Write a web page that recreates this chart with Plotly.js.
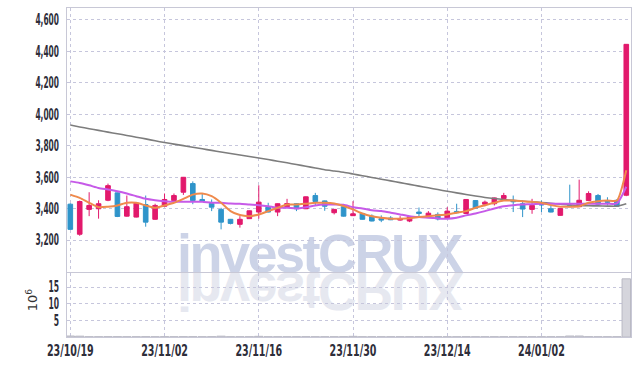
<!DOCTYPE html>
<html>
<head>
<meta charset="utf-8">
<script src="https://cdn.plot.ly/plotly-3.0.1.min.js"></script>
<style>
  html, body { margin:0; padding:0; background:#ffffff; }
  #wrap { position:relative; width:639px; height:366px; overflow:hidden; }
  .wm { position:absolute; left:177px; top:226px; font-family:"Liberation Sans", Arial, sans-serif;
        font-weight:bold; font-size:54px; line-height:54px; letter-spacing:-2.5px; white-space:nowrap; }
  #wm1 { color:#ccd3e7; }
  #wm2 { color:#e6e8f0; transform-origin:0 46.7px; transform:scaleY(-1); }
  #plot { position:absolute; left:0; top:0; width:639px; height:366px; }
</style>
</head>
<body>
<div id="wrap">
  <div class="wm" id="wm1">investCRUX</div>
  <div class="wm" id="wm2">investCRUX</div>
  <div id="plot"></div>
</div>
<script>
const dates = ["23/10/19","23/10/20","23/10/23","23/10/24","23/10/25","23/10/26","23/10/27","23/10/30","23/10/31",
"23/11/01","23/11/02","23/11/03","23/11/06","23/11/07","23/11/08","23/11/09","23/11/10","23/11/13","23/11/14","23/11/15","23/11/16","23/11/17","23/11/20","23/11/21","23/11/22","23/11/23","23/11/24","23/11/27","23/11/28","23/11/29","23/11/30",
"23/12/01","23/12/04","23/12/05","23/12/06","23/12/07","23/12/08","23/12/11","23/12/12","23/12/13","23/12/14","23/12/15","23/12/18","23/12/19","23/12/20","23/12/21","23/12/22","23/12/26","23/12/27","23/12/28",
"24/01/02","24/01/03","24/01/04","24/01/05","24/01/08","24/01/09","24/01/10","24/01/11","24/01/12","24/01/15"];

const openP  = [3429,3238,3396,3400,3454,3501,3353,3347,3427,3333,3416,3452,3505,3560,3459,3433,3396,3333,3301,3337,
                3379,3413,3379,3413,3432,3400,3484,3450,3375,3413,3356,3370,3353,3337,3341,3328,3322,3379,3347,3364,
                3339,3383,3370,3452,3429,3432,3465,3450,3432,3396,3429,3400,3358,3421,3413,3452,3484,3448,3454,3486];
const highP  = [3435,3452,3505,3454,3560,3503,3484,3437,3484,3432,3497,3497,3602,3574,3497,3459,3406,3335,3353,3389,
                3549,3438,3434,3463,3434,3478,3501,3452,3398,3415,3448,3372,3364,3358,3353,3353,3351,3408,3385,3377,
                3410,3432,3461,3454,3452,3471,3501,3484,3452,3463,3452,3421,3404,3553,3585,3511,3494,3473,3460,4447];
const lowP   = [3265,3228,3353,3337,3448,3347,3350,3345,3286,3330,3414,3450,3488,3429,3448,3385,3269,3301,3280,3335,
                3337,3377,3353,3406,3385,3398,3421,3387,3364,3350,3354,3331,3320,3315,3328,3324,3315,3349,3345,3326,
                3337,3370,3366,3402,3416,3421,3454,3379,3347,3368,3379,3377,3356,3411,3411,3450,3427,3421,3414,3480];
const closeP = [3269,3446,3421,3432,3547,3351,3413,3435,3315,3421,3459,3484,3600,3452,3450,3410,3315,3307,3333,3387,
                3442,3379,3432,3433,3400,3476,3446,3416,3396,3353,3368,3333,3322,3328,3330,3337,3349,3370,3372,3335,
                3385,3375,3459,3404,3442,3469,3484,3445,3398,3421,3425,3379,3402,3413,3454,3497,3429,3442,3416,4445];

const maShort = [3490,3469,3438,3410,3413,3421,3438,3438,3421,3406,3421,3438,3463,3490,3497,3480,3438,3385,3360,3353,
                 3364,3385,3406,3427,3427,3432,3438,3438,3433,3418,3396,3370,3353,3343,3337,3337,3339,3347,3353,3358,
                 3364,3375,3385,3406,3422,3438,3452,3452,3448,3444,3438,3423,3413,3413,3416,3438,3448,3452,3452,3645];
const maMid   = [3574,3564,3549,3532,3522,3511,3497,3480,3463,3454,3448,3444,3444,3444,3444,3438,3438,3433,3432,3427,
                 3423,3416,3406,3406,3402,3410,3421,3427,3427,3425,3410,3402,3391,3385,3375,3364,3353,3347,3343,3339,
                 3337,3343,3358,3370,3385,3402,3416,3423,3427,3429,3432,3432,3432,3432,3432,3432,3432,3432,3434,3540];
const maLong  = [3932,3920,3909,3898,3887,3877,3866,3855,3844,3832,3821,3811,3801,3791,3781,3771,3761,3751,3742,3732,
                 3723,3713,3702,3692,3681,3670,3659,3648,3640,3632,3621,3610,3599,3588,3577,3566,3555,3544,3533,3522,
                 3511,3501,3491,3481,3472,3465,3459,3453,3448,3444,3440,3435,3429,3425,3421,3419,3418,3417,3416,3432];

const volume  = [0.3,0.25,0.08,0.08,0.1,0.1,0.08,0.08,0.1,0.08,0.1,0.08,0.1,0.1,0.08,0.1,0.25,0.08,0.08,0.08,
                 0.2,0.08,0.08,0.08,0.08,0.1,0.08,0.08,0.08,0.08,0.2,0.08,0.08,0.08,0.08,0.08,0.08,0.08,0.08,0.08,
                 0.08,0.08,0.1,0.08,0.08,0.08,0.08,0.08,0.08,0.08,0.08,0.08,0.08,0.3,0.3,0.1,0.08,0.08,0.08,17.5];

const priceTicks = [3200,3400,3600,3800,4000,4200,4400,4600];
const volTicks = [5,10,15];
const dateTicks = ["23/10/19","23/11/02","23/11/16","23/11/30","23/12/14","24/01/02"];
const volUnit = '10<sup>6</sup>';

const RED = '#e2196c', BLUE = '#2f94ca';
const tickFont = {family:'"DejaVu Sans", sans-serif', size:15, color:'#2e2e3a', weight:'bold'};
const gridC = '#c6c6dc', lineC = '#c8c8d6';

const traces = [
  {type:'bar', x:dates, y:volume, xaxis:'x2', yaxis:'y2', width:0.9,
   marker:{color:'#d5d5dc', line:{color:'#b9b9c4', width:1}}, hoverinfo:'skip'},
  {type:'scatter', mode:'lines', x:dates, y:maLong, xaxis:'x', yaxis:'y',
   line:{color:'#7d7d7d', width:1.6, shape:'spline', smoothing:0.6}},
  {type:'scatter', mode:'lines', x:dates, y:maMid, xaxis:'x', yaxis:'y',
   line:{color:'#c65ae8', width:2, shape:'spline', smoothing:0.6}},
  {type:'scatter', mode:'lines', x:dates, y:maShort, xaxis:'x', yaxis:'y',
   line:{color:'#ef8a4c', width:2, shape:'spline', smoothing:0.6}},
  {type:'candlestick', x:dates, open:openP, high:highP, low:lowP, close:closeP, xaxis:'x', yaxis:'y',
   increasing:{line:{color:RED, width:1}, fillcolor:RED},
   decreasing:{line:{color:BLUE, width:1}, fillcolor:BLUE},
   whiskerwidth:0}
];

const xr = [-0.35, 59.5];
const layout = {
  width:639, height:366,
  margin:{l:67, r:8, t:8, b:29},
  paper_bgcolor:'rgba(0,0,0,0)', plot_bgcolor:'rgba(0,0,0,0)',
  showlegend:false,
  xaxis:{type:'category', range:xr, anchor:'y', showticklabels:false, tickvals:dateTicks,
         showgrid:true, gridcolor:gridC, griddash:'dot', gridwidth:1,
         showline:true, linecolor:lineC, mirror:true, ticks:'', rangeslider:{visible:false}, zeroline:false},
  xaxis2:{type:'category', range:xr, anchor:'y2', matches:'x', tickvals:dateTicks, ticktext:dateTicks,
         showgrid:true, gridcolor:gridC, griddash:'dot', gridwidth:1,
         showline:true, linecolor:lineC, mirror:true, ticks:'', tickfont:tickFont, tickangle:0},
  yaxis:{domain:[0.199,1], range:[3001,4676], tickvals:priceTicks, tickformat:',d',
         showgrid:true, gridcolor:gridC, griddash:'dot', gridwidth:1,
         showline:true, linecolor:lineC, mirror:true, ticks:'', tickfont:tickFont, ticklabelstandoff:4, zeroline:false},
  yaxis2:{domain:[0,0.196], range:[0,19.4], tickvals:volTicks,
         showgrid:true, gridcolor:gridC, griddash:'dot', gridwidth:1,
         showline:true, linecolor:lineC, mirror:true, ticks:'', tickfont:tickFont, ticklabelstandoff:4, zeroline:false},
  annotations:[{text:volUnit, xref:'paper', yref:'paper', x:-0.062, y:0.112, xanchor:'center', yanchor:'middle',
                textangle:-90, showarrow:false, font:{family:'"DejaVu Sans", sans-serif', size:13, color:'#333'}}]
};

// narrow the tick label glyphs to mimic the condensed face of the reference
const charW = {',':2.4, '/':7.5};
function condense() {
  document.querySelectorAll('#plot .xtick text, #plot .x2tick text, #plot .ytick text, #plot .y2tick text').forEach(t => {
    const s = t.textContent;
    let w = 0;
    for (const ch of s) w += (charW[ch] !== undefined ? charW[ch] : 5.3);
    t.setAttribute('textLength', w.toFixed(1));
    t.setAttribute('lengthAdjust', 'spacingAndGlyphs');
  });
}

Plotly.newPlot('plot', traces, layout, {displayModeBar:false, staticPlot:true}).then(condense);
</script>
</body>
</html>
